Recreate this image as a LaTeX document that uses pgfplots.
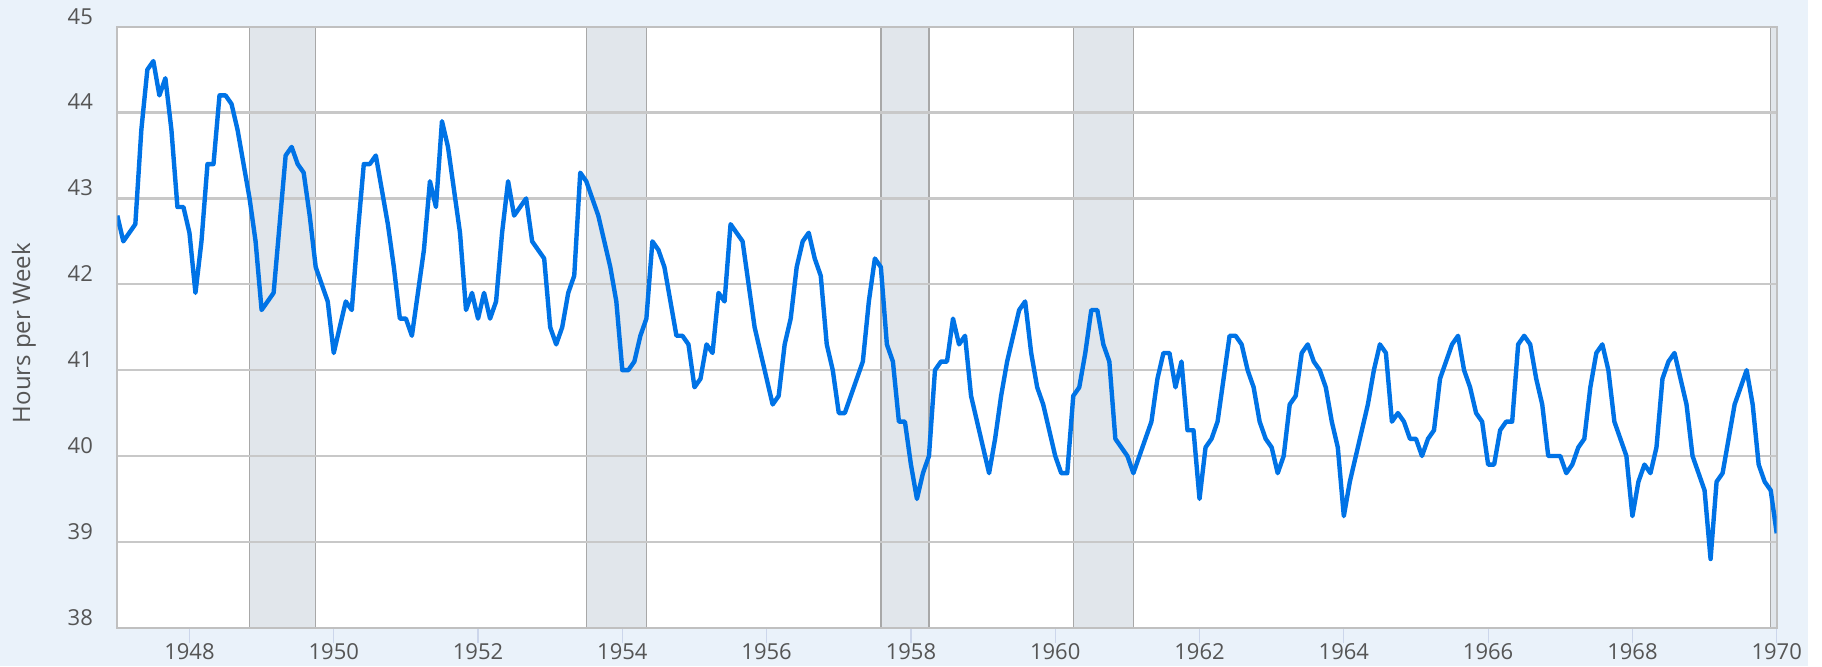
\documentclass[border=0pt]{standalone}
\usepackage{fontspec}
\setmainfont{Open Sans}
\usepackage{xcolor}
\usepackage{pgfplots}
\pgfplotsset{compat=1.18}
\definecolor{bg}{HTML}{EAF2FA}
\definecolor{txt}{HTML}{555555}
\definecolor{gridc}{HTML}{C8C8C8}
\definecolor{framec}{HTML}{C0C0C0}
\definecolor{bandf}{HTML}{E1E6EB}
\definecolor{bandd}{HTML}{A8A8A8}
\definecolor{linec}{HTML}{0073E6}
\definecolor{tickc}{HTML}{CCD6EB}
\pagecolor{bg}
\begin{document}
\begin{tikzpicture}
\fill[white] (845.35pt,-19.15pt) rectangle (852.35pt,313.85pt);
\begin{axis}[
  set layers,
  at={(0,0)}, anchor=south west,
  scale only axis, width=829.7pt, height=300.5pt,
  xmin=0, xmax=276, ymin=38, ymax=45,
  axis background/.style={fill=white},
  axis line style={framec, line width=1pt},
  ytick={38,39,40,41,42,43,44,45},
  xtick={12,36,60,84,108,132,156,180,204,228,252,276},
  xticklabels={1948,1950,1952,1954,1956,1958,1960,1962,1964,1966,1968,1970},
  ymajorgrids, grid style={gridc, line width=1.1pt},
  xtick pos=bottom,
  xtick align=outside,
  ytick align=inside,
  major tick length=7.5pt,
  xtick style={tickc, line width=0.6pt},
  ytick style={draw=none},
  tick label style={font=\fontsize{11}{13}\selectfont, text=txt},
  /pgf/number format/assume math mode=true,
  yticklabel style={anchor=base east, inner sep=0pt, xshift=-12pt, yshift=1.35pt},
  xticklabel style={anchor=base, inner sep=0pt, yshift=-8.5pt},
  ylabel={Hours per Week},
  ylabel style={font=\fontsize{12}{14}\selectfont, text=txt, at={(axis description cs:-0.0563,0.49)}, anchor=center},
]
% recession bands
\addplot[on layer=axis background, fill=bandf, draw=bandd, line width=0.7pt] coordinates {(22,38) (22,45) (33,45) (33,38) (22,38)};
\addplot[on layer=axis background, fill=bandf, draw=bandd, line width=0.7pt] coordinates {(78,38) (78,45) (88,45) (88,38) (78,38)};
\addplot[on layer=axis background, fill=bandf, draw=bandd, line width=0.7pt] coordinates {(127,38) (127,45) (135,45) (135,38) (127,38)};
\addplot[on layer=axis background, fill=bandf, draw=bandd, line width=0.7pt] coordinates {(159,38) (159,45) (169,45) (169,38) (159,38)};
\addplot[on layer=axis background, fill=bandf, draw=bandd, line width=0.7pt] coordinates {(275,38) (275,45) (276,45) (276,38) (275,38)};
% series
\addplot[linec, line width=2.2pt, line join=round, mark=none] coordinates {
(0,42.8) (1,42.5) (2,42.6) (3,42.7) (4,43.8) (5,44.5) (6,44.6) (7,44.2) (8,44.4) (9,43.8) (10,42.9) (11,42.9)
(12,42.6) (13,41.9) (14,42.5) (15,43.4) (16,43.4) (17,44.2) (18,44.2) (19,44.1) (20,43.8) (21,43.4) (22,43.0) (23,42.5)
(24,41.7) (25,41.8) (26,41.9) (27,42.7) (28,43.5) (29,43.6) (30,43.4) (31,43.3) (32,42.8) (33,42.2) (34,42.0) (35,41.8)
(36,41.2) (37,41.5) (38,41.8) (39,41.7) (40,42.6) (41,43.4) (42,43.4) (43,43.5) (44,43.1) (45,42.7) (46,42.2) (47,41.6)
(48,41.6) (49,41.4) (50,41.9) (51,42.4) (52,43.2) (53,42.9) (54,43.9) (55,43.6) (56,43.1) (57,42.6) (58,41.7) (59,41.9)
(60,41.6) (61,41.9) (62,41.6) (63,41.8) (64,42.6) (65,43.2) (66,42.8) (67,42.9) (68,43.0) (69,42.5) (70,42.4) (71,42.3)
(72,41.5) (73,41.3) (74,41.5) (75,41.9) (76,42.1) (77,43.3) (78,43.2) (79,43.0) (80,42.8) (81,42.5) (82,42.2) (83,41.8)
(84,41.0) (85,41.0) (86,41.1) (87,41.4) (88,41.6) (89,42.5) (90,42.4) (91,42.2) (92,41.8) (93,41.4) (94,41.4) (95,41.3)
(96,40.8) (97,40.9) (98,41.3) (99,41.2) (100,41.9) (101,41.8) (102,42.7) (103,42.6) (104,42.5) (105,42.0) (106,41.5) (107,41.2)
(108,40.9) (109,40.6) (110,40.7) (111,41.3) (112,41.6) (113,42.2) (114,42.5) (115,42.6) (116,42.3) (117,42.1) (118,41.3) (119,41.0)
(120,40.5) (121,40.5) (122,40.7) (123,40.9) (124,41.1) (125,41.8) (126,42.3) (127,42.2) (128,41.3) (129,41.1) (130,40.4) (131,40.4)
(132,39.9) (133,39.5) (134,39.8) (135,40.0) (136,41.0) (137,41.1) (138,41.1) (139,41.6) (140,41.3) (141,41.4) (142,40.7) (143,40.4)
(144,40.1) (145,39.8) (146,40.2) (147,40.7) (148,41.1) (149,41.4) (150,41.7) (151,41.8) (152,41.2) (153,40.8) (154,40.6) (155,40.3)
(156,40.0) (157,39.8) (158,39.8) (159,40.7) (160,40.8) (161,41.2) (162,41.7) (163,41.7) (164,41.3) (165,41.1) (166,40.2) (167,40.1)
(168,40.0) (169,39.8) (170,40.0) (171,40.2) (172,40.4) (173,40.9) (174,41.2) (175,41.2) (176,40.8) (177,41.1) (178,40.3) (179,40.3)
(180,39.5) (181,40.1) (182,40.2) (183,40.4) (184,40.9) (185,41.4) (186,41.4) (187,41.3) (188,41.0) (189,40.8) (190,40.4) (191,40.2)
(192,40.1) (193,39.8) (194,40.0) (195,40.6) (196,40.7) (197,41.2) (198,41.3) (199,41.1) (200,41.0) (201,40.8) (202,40.4) (203,40.1)
(204,39.3) (205,39.7) (206,40.0) (207,40.3) (208,40.6) (209,41.0) (210,41.3) (211,41.2) (212,40.4) (213,40.5) (214,40.4) (215,40.2)
(216,40.2) (217,40.0) (218,40.2) (219,40.3) (220,40.9) (221,41.1) (222,41.3) (223,41.4) (224,41.0) (225,40.8) (226,40.5) (227,40.4)
(228,39.9) (229,39.9) (230,40.3) (231,40.4) (232,40.4) (233,41.3) (234,41.4) (235,41.3) (236,40.9) (237,40.6) (238,40.0) (239,40.0)
(240,40.0) (241,39.8) (242,39.9) (243,40.1) (244,40.2) (245,40.8) (246,41.2) (247,41.3) (248,41.0) (249,40.4) (250,40.2) (251,40.0)
(252,39.3) (253,39.7) (254,39.9) (255,39.8) (256,40.1) (257,40.9) (258,41.1) (259,41.2) (260,40.9) (261,40.6) (262,40.0) (263,39.8)
(264,39.6) (265,38.8) (266,39.7) (267,39.8) (268,40.2) (269,40.6) (270,40.8) (271,41.0) (272,40.6) (273,39.9) (274,39.7) (275,39.6)
(276,39.1)
};
\end{axis}
\pgfresetboundingbox
\path[use as bounding box] (-58.65pt,-19.15pt) rectangle (852.35pt,313.85pt);
\end{tikzpicture}
\end{document}
